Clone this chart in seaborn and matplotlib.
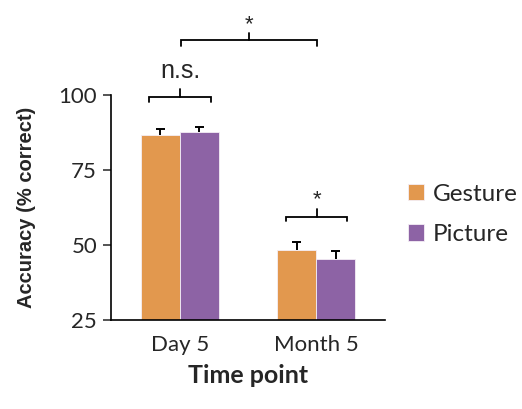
import seaborn as sns
import matplotlib.pyplot as plt
import pandas as pd
import numpy as np

# data
time_points = ['Day 5', 'Month 5']
conditions = ['Gesture', 'Picture']
gesture_acc = [86.7, 48.3]
picture_acc = [87.7, 45.5]
gesture_sem = [2.0, 2.7]
picture_sem = [1.8, 2.5]

palette = {'Gesture': '#E2984E', 'Picture': '#8D63A5'}

df = pd.DataFrame({
    'time': time_points * 2,
    'cond': ['Gesture'] * 2 + ['Picture'] * 2,
    'acc': gesture_acc + picture_acc,
    'sem': gesture_sem + picture_sem,
})

sns.set_style('white')
plt.rcParams['font.family'] = ['Lato', 'DejaVu Sans']
arial = ['Liberation Sans', 'DejaVu Sans']

fig = plt.figure(figsize=(5.22, 4.09), dpi=100)
ax = fig.add_axes([0.2126, 0.2176, 0.525, 0.5501])

sns.barplot(data=df, x='time', y='acc', hue='cond', hue_order=conditions,
            palette=palette, width=0.574, errorbar=None, saturation=1,
            edgecolor='#f4eef6', linewidth=0.6, ax=ax)

# upper-only error bars with a cap
cap = 0.036
for cond, container in zip(conditions, ax.containers):
    sub = df[df['cond'] == cond]
    for bar, err in zip(container, sub['sem']):
        xc = bar.get_x() + bar.get_width() / 2
        h = bar.get_height()
        ax.vlines(xc, h, h + err, color='black', lw=1.4, zorder=3)
        ax.hlines(h + err, xc - cap, xc + cap, color='black', lw=1.4, zorder=3)

ax.set_ylim(25, 100)
ax.set_xlim(-0.507, 1.507)
ax.set_yticks([25, 50, 75, 100])
ax.tick_params(axis='y', direction='out', length=6, width=1.1, labelsize=16, left=True, pad=4)
ax.tick_params(axis='x', length=0, labelsize=16, pad=11)
for side in ['top', 'right']:
    ax.spines[side].set_visible(False)
for side in ['left', 'bottom']:
    ax.spines[side].set_linewidth(1.2)
    ax.spines[side].set_color('black')

ax.set_xlabel('Time point', fontsize=18, fontweight='bold', labelpad=6)
ax.set_ylabel('Accuracy (% correct)', fontsize=14.5, fontweight='bold', labelpad=16,
              family=arial)


def bracket(x0, x1, y, drop, rise, label, ty, size):
    xm = (x0 + x1) / 2
    ax.plot([x0, x0, x1, x1], [y - drop, y, y, y - drop], color='black', lw=1.3,
            clip_on=False, solid_joinstyle='miter')
    ax.plot([xm, xm], [y, y + rise], color='black', lw=1.3, clip_on=False)
    ax.text(xm, ty, label, ha='center', va='center', fontsize=size, clip_on=False,
            family=arial)


bracket(-0.228, 0.228, 99.3, 1.6, 2.6, 'n.s.', 108.0, 18)
bracket(0.007, 1.007, 118.3, 2.0, 2.4, '*', 123.5, 16)
bracket(0.78, 1.23, 59.4, 1.4, 2.6, '*', 65.0, 16)

ax.legend(loc='center left', bbox_to_anchor=(1.005, 0.47), frameon=False,
          fontsize=17.5, handlelength=0.66, handleheight=0.66, handletextpad=0.35,
          labelspacing=0.8)

fig.savefig('out.png', dpi=100)
